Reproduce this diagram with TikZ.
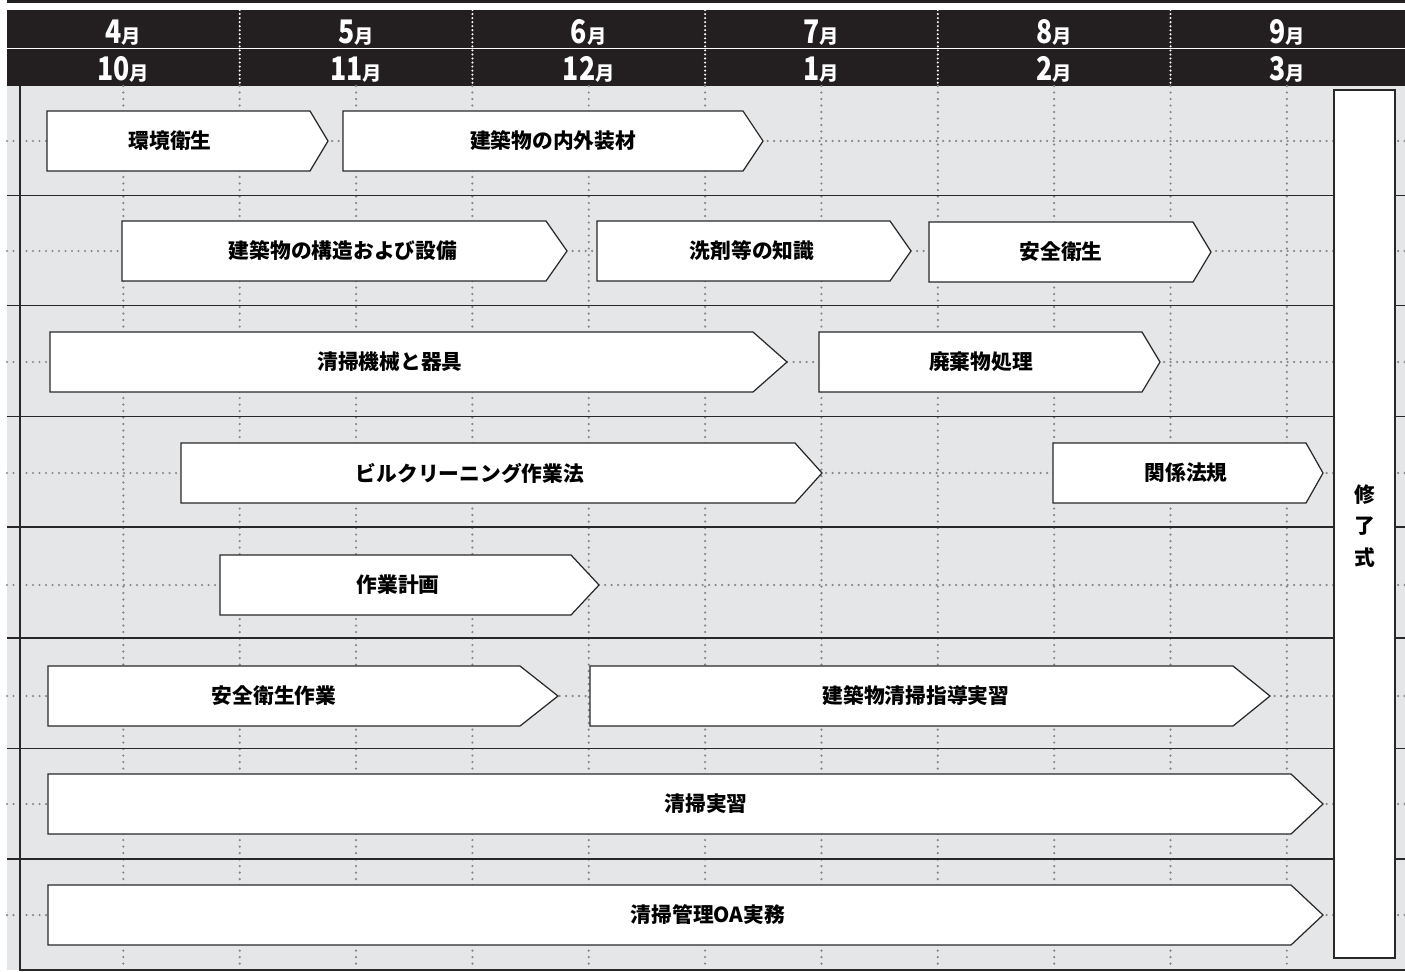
\documentclass[tikz,border=0pt]{standalone}
\usepackage{fontspec}
\setmainfont{Noto Sans CJK JP}
\newfontfamily\numfont{Noto Sans CJK JP}[FakeStretch=0.82]
\usepackage{tikz}
\usetikzlibrary{positioning,calc}
\definecolor{bandblack}{RGB}{35,31,32}
\definecolor{panelgray}{RGB}{229,230,232}
\definecolor{dotgray}{RGB}{135,135,135}
\definecolor{rulegray}{RGB}{40,40,40}
\tikzstyle{course}=[draw=rulegray, fill=white, line width=0.7pt]
\tikzstyle{lab}=[font=\fontsize{11.8}{14}\selectfont\bfseries, inner sep=0pt]
\tikzstyle{month}=[text=white, font=\bfseries, inner sep=0pt, anchor=base]
\tikzstyle{griddot}=[dotgray, line width=1.4pt, line cap=round, dash pattern=on 0pt off 3.7pt]
\tikzstyle{headdot}=[white, line width=1.3pt, line cap=round, dash pattern=on 0pt off 2.3pt]
\tikzstyle{rowline}=[rulegray, line width=0.9pt]
\newcommand{\mon}[1]{{\numfont\fontsize{18.5}{18.5}\selectfont #1}{\fontsize{11}{11}\selectfont 月}}
\newcommand{\course}[7]{% name, left, corner, tip, y, text x, text
	\draw[course] (#2,#5-30) -- (#3,#5-30) -- (#4,#5) -- (#3,#5+30) -- (#2,#5+30) -- cycle;
	\node[lab] (#1) at (#6,#5) {#7};
}

\begin{document}
\begin{tikzpicture}[x=0.02cm, y=-0.02cm]
        \useasboundingbox (0,0) rectangle (1405,971);
        % header band
        \fill[bandblack] (7,0) rectangle (1405,3);
        \fill[bandblack] (7,10) rectangle (1405,86);
        \draw[white, line width=0.6pt] (7,48.5) -- (1405,48.5);
        \foreach \k in {1,...,5}
          \draw[headdot] ({7+232.7*\k},10) -- ({7+232.7*\k},86);
        \foreach \i/\a/\b in {1/4/10, 2/5/11, 3/6/12, 4/7/1, 5/8/2, 6/9/3} {
          \node[month] (m\a) at ({7+232.7*(\i-0.5)},43) {\mon{\a}};
          \node[month] (m\b) at ({7+232.7*(\i-0.5)},80.5) {\mon{\b}};
        }
        % panel and grid
        \fill[panelgray] (7,86) rectangle (1405,970);
        \foreach \k in {1,...,11}
          \draw[griddot] ({7+116.35*\k},86) -- ({7+116.35*\k},970);
        \foreach \y in {141,251,362,473,585,696,804,915}
          \draw[griddot] (7,\y) -- (1405,\y);
        \foreach \y in {195.5,305.5,416.5,527,638,748.5,859}
          \draw[rowline] (7,\y) -- (1405,\y);
        \draw[rowline, line width=1.2pt] (20,86) -- (20,970) -- (1405,970);
        % courses
        \course{kankyo}{47}{310}{328}{141}{170}{環境衛生}
        \course{naigai}{343}{743}{763}{141}{553}{建築物の内外装材}
        \course{kozo}{122}{546}{567}{251}{343}{建築物の構造および設備}
        \course{senzai}{597}{890}{911}{251}{752}{洗剤等の知識}
        \course{anzen}{929}{1193}{1211}{252}{1061}{安全衛生}
        \course{kikai}{50}{753}{787}{362}{390}{清掃機械と器具}
        \course{haiki}{819}{1142}{1160}{362}{981}{廃棄物処理}
        \course{bldg}{181}{795}{822}{473}{470}{ビルクリーニング作業法}
        \course{hoki}{1053}{1306}{1323}{473}{1186}{関係法規}
        \course{keikaku}{220}{571}{599}{585}{398}{作業計画}
        \course{sagyo}{48}{520}{558}{696}{274}{安全衛生作業}
        \course{shido}{590}{1233}{1270}{696}{916}{建築物清掃指導実習}
        \course{jisshu}{48}{1291}{1323}{804}{706}{清掃実習}
        \course{oa}{48}{1291}{1323}{915}{708}{清掃管理OA実務}
        % ceremony
        \draw[course] (1334,90) rectangle (1395,958);
        \node[lab, font=\fontsize{11.8}{18.1}\selectfont\bfseries, align=center] (shuryo) at (1365,526) {修\\了\\式};
      \end{tikzpicture}
\end{document}
